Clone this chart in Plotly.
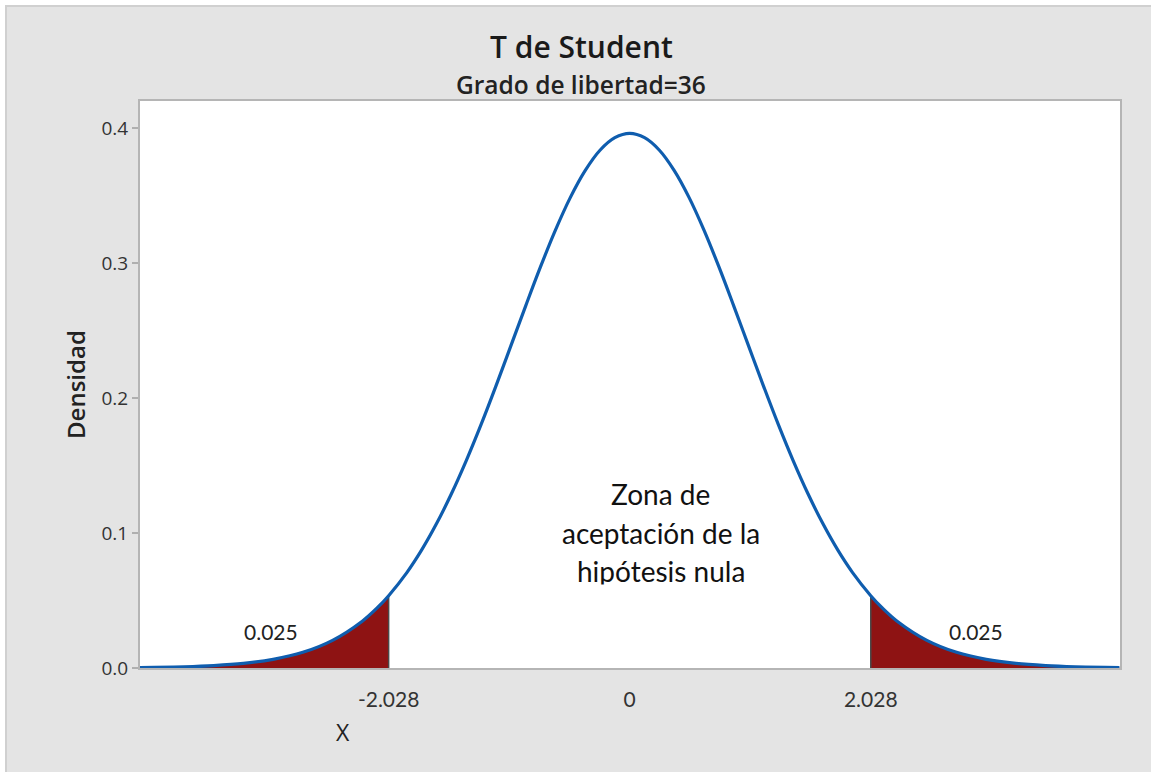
import plotly.graph_objects as go

# ---- data ----
x_vals = [-4.12, -4.0, -3.75, -3.5, -3.25, -3.0, -2.75, -2.5, -2.25, -2.125, -2.028,
          -1.875, -1.75, -1.625, -1.5, -1.375, -1.25, -1.125, -1.0, -0.875, -0.75,
          -0.625, -0.5, -0.375, -0.25, -0.125, 0.0,
          0.125, 0.25, 0.375, 0.5, 0.625, 0.75, 0.875, 1.0, 1.125, 1.25, 1.375, 1.5,
          1.625, 1.75, 1.875, 2.028, 2.125, 2.25, 2.5, 2.75, 3.0, 3.25, 3.5, 3.75, 4.0, 4.12]
density = [0.0003, 0.0004, 0.0009, 0.0018, 0.0034, 0.0064, 0.0116, 0.0205, 0.0347, 0.0445, 0.0536,
           0.0707, 0.0875, 0.1070, 0.1291, 0.1537, 0.1805, 0.2091, 0.2387, 0.2684, 0.2974,
           0.3245, 0.3486, 0.3686, 0.3837, 0.3930, 0.3962,
           0.3930, 0.3837, 0.3686, 0.3486, 0.3245, 0.2974, 0.2684, 0.2387, 0.2091, 0.1805, 0.1537, 0.1291,
           0.1070, 0.0875, 0.0707, 0.0536, 0.0445, 0.0347, 0.0205, 0.0116, 0.0064, 0.0034, 0.0018, 0.0009, 0.0004, 0.0003]
critical_values = [-2.028, 2.028]
tail_labels = ["0.025", "0.025"]
x_tick_vals = [-2.028, 0, 2.028]
x_tick_text = ["-2.028", "0", "2.028"]
y_tick_vals = [0.0, 0.1, 0.2, 0.3, 0.4]
y_tick_text = ["0.0", "0.1", "0.2", "0.3", "0.4"]
title_text = "T de Student"
subtitle_text = "Grado de libertad=36"
zone_lines = ["Zona de", "aceptación de la", "hipótesis nula"]

BLUE = "#0F5DAE"
RED = "#8E1313"
GRAYBG = "#E4E4E4"
SEGOE = "Open Sans, Noto Sans, sans-serif"
CALIBRI = "Lato, Carlito, sans-serif"

fig = go.Figure()

# tails
lo, hi = critical_values
left_x = [x for x in x_vals if x <= lo]
left_y = [d for x, d in zip(x_vals, density) if x <= lo]
right_x = [x for x in x_vals if x >= hi]
right_y = [d for x, d in zip(x_vals, density) if x >= hi]
for tx, ty in ((left_x, left_y), (right_x, right_y)):
    fig.add_trace(go.Scatter(x=tx, y=ty, mode="lines", fill="tozeroy",
                             fillcolor=RED, line=dict(width=0, shape="spline"),
                             hoverinfo="skip", showlegend=False))

# vertical lines at critical values
for c in critical_values:
    dc = density[x_vals.index(c)]
    fig.add_trace(go.Scatter(x=[c, c], y=[0, dc], mode="lines",
                             line=dict(color="#4a4a4a", width=1.5),
                             hoverinfo="skip", showlegend=False))

# curve
fig.add_trace(go.Scatter(x=x_vals, y=density, mode="lines",
                         line=dict(color=BLUE, width=3.2, shape="spline", smoothing=1),
                         showlegend=False))

# figure fills the whole window (body margin removed in post_script)
W, H = 1151, 772
PL, PR, PT, PB = 140, 1120, 101, 668   # plot box (px)
L, R, T, B = PL, W - PR, PT, H - PB
pw, ph = PR - PL, PB - PT

def px_x(p):      # image px -> paper
    return (p - PL) / pw

def px_y(p):
    return (PB - p) / ph

# gray panel (with a white margin at top/left like the screenshot)
fig.add_shape(type="rect", xref="paper", yref="paper", layer="below",
              x0=px_x(6), x1=px_x(W + 4), y0=px_y(H + 4), y1=px_y(6),
              fillcolor=GRAYBG, line=dict(color="#D0D0D0", width=2))
fig.add_shape(type="rect", xref="paper", yref="paper", layer="below",
              x0=0, x1=1, y0=0, y1=1, fillcolor="white", line=dict(width=0))

C = dict(xanchor="center", yanchor="middle", showarrow=False)

# tail area labels
fig.add_annotation(x=-3.015, y=0.027, text=tail_labels[0],
                   font=dict(family=CALIBRI, size=21, color="#222222"), **C)
fig.add_annotation(x=2.914, y=0.027, text=tail_labels[1],
                   font=dict(family=CALIBRI, size=21, color="#222222"), **C)

# zone text
for txt, yy in zip(zone_lines, [0.1290, 0.1000, 0.0718]):
    fig.add_annotation(x=0.26, y=yy, text=txt,
                       font=dict(family=CALIBRI, size=28, color="#111111"), **C)
# clipped bottom edge of the text box
fig.add_annotation(x=0.26, y=0.0540, text=" ", width=240, height=20,
                   bgcolor="white", borderpad=0, **C)

# title and subtitle
fig.add_annotation(xref="paper", yref="paper", x=px_x(581), y=px_y(47), text=title_text,
                   font=dict(family=SEGOE, size=30, color="#1a1a1a", weight=600), **C)
fig.add_annotation(xref="paper", yref="paper", x=px_x(581), y=px_y(84), text=subtitle_text,
                   font=dict(family=SEGOE, size=24.5, color="#222222", weight=600), **C)

# axis titles
fig.add_annotation(xref="paper", yref="paper", x=px_x(343), y=px_y(732), text="X",
                   font=dict(family=SEGOE, size=23, color="#222222"), **C)
fig.add_annotation(xref="paper", yref="paper", x=px_x(75), y=px_y(385), text="Densidad",
                   textangle=-90,
                   font=dict(family=SEGOE, size=24, color="#222222", weight=600), **C)

fig.update_layout(
    width=W, height=H,
    margin=dict(l=L, r=R, t=T, b=B, pad=0),
    paper_bgcolor="white", plot_bgcolor="white",
    showlegend=False,
)
fig.update_xaxes(range=[-4.12, 4.125], tickvals=x_tick_vals, ticktext=x_tick_text,
                 showgrid=False, zeroline=False, showline=True, mirror=True,
                 linecolor="#B5B5B5", linewidth=2, layer="below traces",
                 ticks="outside", ticklen=12, tickcolor="rgba(0,0,0,0)",
                 tickfont=dict(family=CALIBRI, size=21, color="#333333"))
fig.update_yaxes(range=[0, 0.4202], tickvals=y_tick_vals, ticktext=y_tick_text,
                 showgrid=False, zeroline=False, showline=True, mirror=True,
                 linecolor="#B5B5B5", linewidth=2, layer="below traces",
                 ticks="outside", ticklen=6, tickcolor="#AFAFAF", tickwidth=1.5,
                 tickfont=dict(family=SEGOE, size=19, color="#333333"))

fig.write_html("out.html", config={"displayModeBar": False},
               post_script="document.body.style.margin='0';document.body.style.overflow='hidden';")
